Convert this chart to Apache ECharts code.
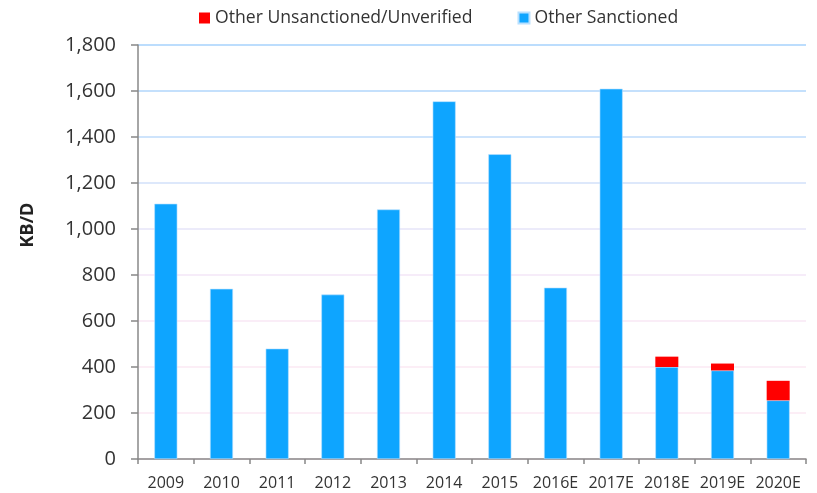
<!DOCTYPE html>
<html>
<head>
<meta charset="utf-8">
<script src="https://cdn.jsdelivr.net/npm/echarts@6/dist/echarts.min.js"></script>
<style>
  html, body { margin: 0; padding: 0; background: #fff; }
  #main { width: 817px; height: 493px; }
</style>
</head>
<body>
<div id="main"></div>
<script>
// values
var years = ['2009', '2010', '2011', '2012', '2013', '2014', '2015', '2016E', '2017E', '2018E', '2019E', '2020E'];
var sanctioned = [1110, 740, 480, 715, 1085, 1555, 1325, 745, 1610, 400, 385, 255];
var unsanctioned = [null, null, null, null, null, null, null, null, null, 45, 30, 85];

var myChart = echarts.init(document.getElementById('main'));

var font = 'Open Sans';

myChart.setOption({
  animation: false,
  textStyle: { fontFamily: font },
  legend: {
    top: 4,
    left: 194,
    itemWidth: 11,
    itemHeight: 11,
    itemGap: 45,
    icon: 'rect',
    textStyle: { fontSize: 17.6, color: '#333', fontFamily: font },
    data: ['Other Unsanctioned/Unverified', 'Other Sanctioned']
  },
  grid: { left: 138, right: 11, top: 45, bottom: 34 },
  xAxis: {
    type: 'category',
    data: years,
    axisLine: { lineStyle: { color: '#888', width: 1.5 } },
    axisTick: { show: true, length: 5, lineStyle: { color: '#888', width: 1.5 } },
    axisLabel: { color: '#333', fontSize: 16, margin: 16, interval: 0 }
  },
  yAxis: {
    type: 'value',
    min: 0,
    max: 1800,
    interval: 200,
    name: 'KB/D',
    nameLocation: 'middle',
    nameGap: 101,
    nameTextStyle: { fontSize: 18, fontWeight: 'bold', color: '#222', padding: [0, 0, 0, 54] },
    axisLine: { show: true, lineStyle: { color: '#888', width: 1.5 } },
    axisTick: { show: true, length: 7, lineStyle: { color: '#888', width: 1.5 } },
    axisLabel: {
      color: '#333',
      fontSize: 20,
      margin: 22,
      formatter: function (v) { return v.toLocaleString('en-US'); }
    },
    splitLine: {
      lineStyle: {
        color: ['#fbe8f3', '#fbe8f3', '#fbe8f3', '#f8e7f5', '#f3e6f7', '#e6e4f8', '#d2e0fa', '#bedbfb', '#b0d6fb', '#a6d2fc'],
        width: 1.5
      }
    }
  },
  series: [
    {
      name: 'Other Sanctioned',
      type: 'bar',
      stack: 'total',
      barWidth: 23,
      itemStyle: { color: '#0ea5ff', borderColor: '#b8e0ff', borderWidth: 0.6 },
      data: sanctioned
    },
    {
      name: 'Other Unsanctioned/Unverified',
      type: 'bar',
      stack: 'total',
      barWidth: 23,
      itemStyle: { color: '#ff0000' },
      data: unsanctioned
    }
  ]
});
</script>
</body>
</html>
